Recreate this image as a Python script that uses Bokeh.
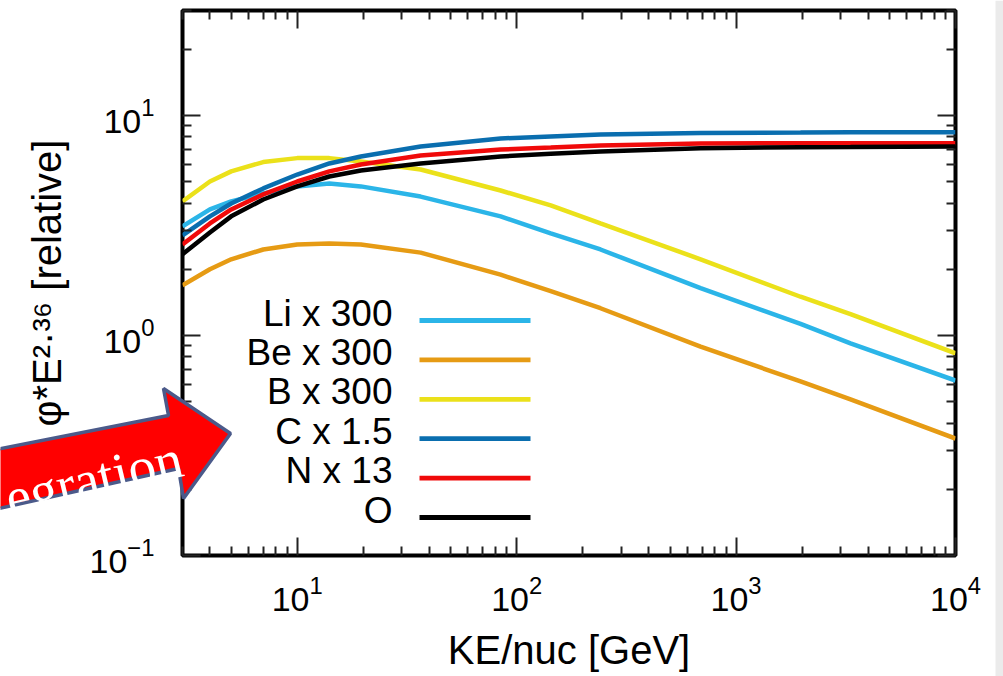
import math
from bokeh.plotting import figure
from bokeh.models import (LogAxis, FixedTicker, CustomJSTickFormatter, LogTickFormatter, Label,
                          BoxAnnotation, Range1d)
from bokeh.core.properties import value
from bokeh.embed import file_html
from bokeh.resources import INLINE

# ---------------- data ----------------
energy = [3, 4, 5, 7, 10, 14, 19.5, 36.5, 84.5, 143, 241, 689, 1967, 3323, 10000]
li_x300 = [3.13, 3.74, 4.07, 4.42, 4.76, 4.91, 4.76, 4.28, 3.48, 2.91, 2.46, 1.64, 1.13, 0.92, 0.624]
be_x300 = [1.69, 2.00, 2.22, 2.46, 2.59, 2.62, 2.59, 2.38, 1.89, 1.59, 1.33, 0.89, 0.618, 0.512, 0.340]
b_x300 = [4.07, 5.01, 5.57, 6.14, 6.40, 6.40, 6.18, 5.68, 4.56, 3.90, 3.23, 2.22, 1.50, 1.25, 0.83]
c_x1p5 = [2.85, 3.48, 3.98, 4.66, 5.39, 6.05, 6.51, 7.23, 7.86, 8.03, 8.20, 8.33, 8.37, 8.40, 8.40]
n_x13 = [2.59, 3.23, 3.74, 4.38, 5.01, 5.57, 5.99, 6.58, 7.00, 7.15, 7.31, 7.46, 7.48, 7.48, 7.48]
o_x1 = [2.34, 2.94, 3.48, 4.15, 4.76, 5.28, 5.62, 6.05, 6.51, 6.70, 6.86, 7.10, 7.18, 7.19, 7.23]

series_labels = ["Li x 300", "Be x 300", "B x 300", "C x 1.5", "N x 13", "O"]
series_values = [li_x300, be_x300, b_x300, c_x1p5, n_x13, o_x1]
series_colors = ["#2BB5E8", "#E69B14", "#EBE11A", "#0A6EAF", "#F00A0A", "#000000"]

x_major = [10, 100, 1000, 10000]
y_major = [0.1, 1, 10]
x_minor = [m * 10 ** d for d in range(0, 4) for m in range(2, 10) if 3 <= m * 10 ** d <= 10000]
y_minor = [m * 10.0 ** d for d in range(-1, 2) for m in range(2, 10) if m * 10.0 ** d <= 30]

x_lo, x_hi = 3, 10000
y_lo, y_hi = 0.1, 30

x_title = "KE/nuc [GeV]"
y_title = "φ*E²·³⁶ [relative]"
overlay_text = "egration"

FONT = "Liberation Sans"
W, H = 1003, 676

p = figure(width=W, height=H, x_axis_type="log", y_axis_type="log",
           x_range=(x_lo, x_hi), y_range=(y_lo, y_hi),
           output_backend="svg", toolbar_location=None,
           min_border_left=182, min_border_right=48, min_border_top=10, min_border_bottom=121,
           background_fill_color="white", border_fill_color="white")
p.grid.visible = False
p.outline_line_color = "black"
p.outline_line_width = 4

empty = CustomJSTickFormatter(code="return ''")


def style_axis(ax, major, minor, labelled):
    ax.ticker = FixedTicker(ticks=major, minor_ticks=minor)
    ax.axis_line_color = None
    ax.major_tick_in = 18
    ax.major_tick_out = 0
    ax.minor_tick_in = 9
    ax.minor_tick_out = 0
    ax.major_tick_line_color = "#222222"
    ax.minor_tick_line_color = "#222222"
    ax.major_tick_line_width = 2
    ax.minor_tick_line_width = 2
    if labelled:
        ax.formatter = LogTickFormatter()
        ax.major_label_text_font = FONT
        ax.major_label_text_font_size = "34px"
        ax.major_label_text_color = "black"
        ax.axis_label_text_font = FONT
        ax.axis_label_text_font_size = "40px"
        ax.axis_label_text_font_style = "normal"
        ax.axis_label_text_color = "black"
    else:
        ax.formatter = empty
        ax.major_label_standoff = 0


xa = p.xaxis[0]
ya = p.yaxis[0]
style_axis(xa, x_major, x_minor, True)
style_axis(ya, y_major, y_minor, True)
xa.major_label_standoff = 20
xa.axis_label = x_title
xa.axis_label_standoff = 14
ya.major_label_standoff = 28
ya.axis_label = y_title
ya.axis_label_standoff = 18

top_ax = LogAxis()
right_ax = LogAxis()
style_axis(top_ax, x_major, x_minor, False)
style_axis(right_ax, y_major, y_minor, False)
p.add_layout(top_ax, "above")
p.add_layout(right_ax, "right")

# ---------------- curves ----------------
for vals, col in zip(series_values, series_colors):
    p.line(energy, vals, line_color=col, line_width=4.5)

# ---------------- legend (text left, line right) ----------------
row0, pitch = 235, 39.4   # screen y of first legend line, row spacing
for i, (lab, col) in enumerate(zip(series_labels, series_colors)):
    yc = row0 - i * pitch
    p.add_layout(Label(x=210, x_units="screen", y=yc - 13, y_units="screen", text=lab,
                       text_align="right", text_color="black",
                       text_font=FONT, text_font_size="37px"))
    p.add_layout(BoxAnnotation(left=237, right=348, bottom=yc - 2.4, top=yc + 2.4,
                               left_units="screen", right_units="screen",
                               bottom_units="screen", top_units="screen",
                               fill_color=col, fill_alpha=1, line_color=None))

# ---------------- separate transparent overlay (slide arrow), canvas pixels ----------------
ov = figure(width=W, height=H, x_range=Range1d(0, W), y_range=Range1d(H, 0),
            output_backend="svg", toolbar_location=None, min_border=0,
            x_axis_location=None, y_axis_location=None,
            background_fill_color=None, border_fill_color=None, outline_line_color=None)
ov.grid.visible = False
ov.styles = {"position": "absolute", "top": "0px", "left": "0px"}

arrow_x = [-60, 168, 163, 230, 183, 178, -60]
arrow_y = [460, 415, 388, 433, 498, 468, 521]
ov.patch(arrow_x, arrow_y, fill_color="#FF0000", line_color="#4B5A8A", line_width=3.5)
ov.text(x=[181], y=[457], text=[overlay_text], angle=0.235, text_align="right",
        text_baseline="alphabetic", text_color="white",
        text_font=value("Liberation Serif"), text_font_size="55px")
ov.quad(left=[995], right=[W], top=[0], bottom=[H], fill_color="#EBEBEB", line_color=None)

open("out.html", "w").write(file_html((p, ov), INLINE))
